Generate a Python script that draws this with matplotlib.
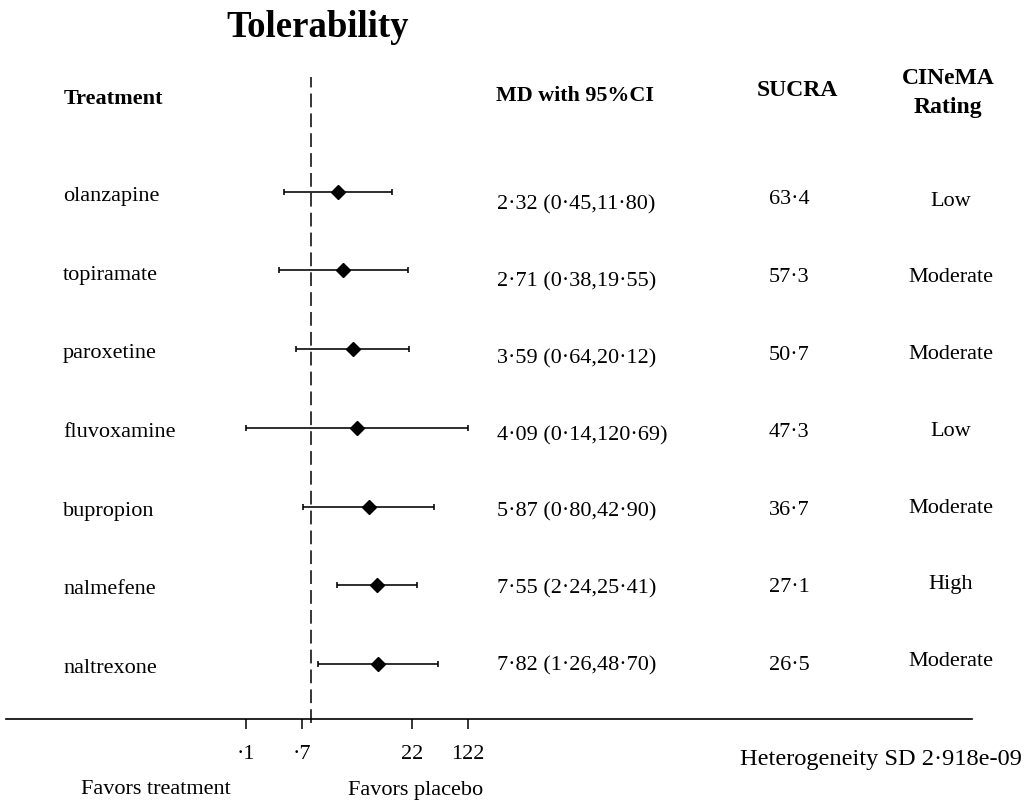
import numpy as np
import matplotlib
matplotlib.use('Agg')
import matplotlib.pyplot as plt
from matplotlib.transforms import blended_transform_factory

plt.rcParams['font.family'] = ['Liberation Serif', 'DejaVu Serif']

# data
treatments = ['olanzapine', 'topiramate', 'paroxetine', 'fluvoxamine',
              'bupropion', 'nalmefene', 'naltrexone']
md = np.array([2.32, 2.71, 3.59, 4.09, 5.87, 7.55, 7.82])
ci_low = np.array([0.45, 0.38, 0.64, 0.14, 0.80, 2.24, 1.26])
ci_high = np.array([11.80, 19.55, 20.12, 120.69, 42.90, 25.41, 48.70])
sucra = [63.4, 57.3, 50.7, 47.3, 36.7, 27.1, 26.5]
rating = ['Low', 'Moderate', 'Moderate', 'Low', 'Moderate', 'High', 'Moderate']
tick_vals = [0.14, 0.76, 22, 122]
tick_labels = ['·1', '·7', '22', '122']
het_sd = '2·918e-09'

W, H = 1030, 802
fig = plt.figure(figsize=(W / 100, H / 100), dpi=100)

def fx(px):
    return px / W

def fy(py):
    return 1 - py / H

def dot(v, n):
    # decimal point printed as a middle dot
    return f'{v:.{n}f}'.replace('.', '·')

# axes: bottom line from x=6 to 972 px, y from 77 to 719 px
ax_l, ax_r, ax_t, ax_b = 6, 972, 77, 719
ax = fig.add_axes([fx(ax_l), fy(ax_b), fx(ax_r - ax_l), (ax_b - ax_t) / H])
ax.set_xscale('log')
x1, k = 310.6, 32.8   # pixel of value 1 and pixels per ln unit
ax.set_xlim(np.exp(-(x1 - ax_l) / k), np.exp((ax_r - x1) / k))
row0, step = 191.7, 78.7
ax.set_ylim((ax_b - row0) / step, (ax_t - row0) / step)

rows = np.arange(len(treatments))
ax.errorbar(md, rows, xerr=[md - ci_low, ci_high - md], fmt='D', color='black',
            ms=7, elinewidth=1.15, capsize=2.5, capthick=1.15)
ax.axvline(1, ymin=-0.006, ymax=1, color='black', lw=1.1, dashes=(9, 4), clip_on=False)

for s in ['top', 'right', 'left']:
    ax.spines[s].set_visible(False)
ax.spines['bottom'].set_linewidth(1.2)
ax.set_yticks([])
ax.set_xticks(tick_vals)
ax.set_xticklabels(tick_labels)
ax.xaxis.set_minor_locator(plt.NullLocator())
ax.tick_params(axis='x', length=7.5, width=1.1, pad=11, labelsize=16)

# text columns
tr = blended_transform_factory(fig.transFigure, ax.transData)
for i in rows:
    ax.text(fx(63), i + 0.06, treatments[i], transform=tr, ha='left', va='center', fontsize=16)
    ax.text(fx(497), 0.976 * i + 0.17,
            '%s (%s,%s)' % (dot(md[i], 2), dot(ci_low[i], 2), dot(ci_high[i], 2)),
            transform=tr, ha='left', va='center', fontsize=16)
    ax.text(fx(789), 0.985 * i + 0.105, dot(sucra[i], 1),
            transform=tr, ha='center', va='center', fontsize=16)
    ax.text(fx(951), 0.975 * i + 0.12, rating[i], transform=tr, ha='center',
            va='center', fontsize=16)

# headers
fig.text(fx(318), fy(37), 'Tolerability', ha='center', va='baseline',
         fontsize=26.5, fontweight='bold')
fig.text(fx(64), fy(99), 'Treatment', ha='left', va='center', fontsize=16, fontweight='bold')
fig.text(fx(496), fy(96), 'MD with 95%CI', ha='left', va='center', fontsize=15.8, fontweight='bold')
fig.text(fx(797), fy(91), 'SUCRA', ha='center', va='center', fontsize=17, fontweight='bold')
fig.text(fx(948), fy(93), 'CINeMA\nRating', ha='center', va='center', fontsize=17,
         fontweight='bold', linespacing=1.45)

# footer
fig.text(fx(156), fy(790), 'Favors treatment', ha='center', va='center', fontsize=16)
fig.text(fx(416), fy(790), 'Favors placebo', ha='center', va='center', fontsize=16)
fig.text(fx(740), fy(760), 'Heterogeneity SD ' + het_sd, ha='left', va='center', fontsize=17.6)

fig.savefig('out.png', dpi=100)
